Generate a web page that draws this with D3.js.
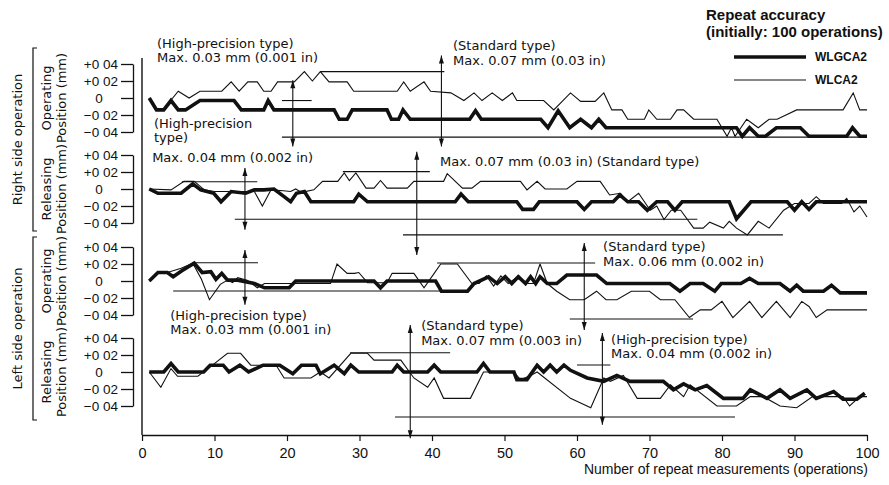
<!DOCTYPE html>
<html><head><meta charset="utf-8">
<script src="https://cdn.jsdelivr.net/npm/d3@7"></script>
<style>
body{margin:0;background:#fff}
svg{display:block}
text{font-family:"Liberation Sans",Arial,sans-serif;fill:#111}
.dv{font-family:"DejaVu Sans",sans-serif}
</style>
</head><body>
<svg id="c" width="889" height="485"></svg>
<script>
// ---------- DATA (operation number, deviation in mm) ----------
const xTicks = [0,10,20,30,40,50,60,70,80,90,100];
const yTicks = [0.04,0.02,0,-0.02,-0.04];
const yTickLabels = ["+0 04","+0 02","0","\u22120 02","\u22120 04"];
const seriesNames = ["WLGCA2","WLCA2"];
const panelNames = ["Operating","Releasing","Operating","Releasing"];
const sideNames = ["Right side operation","Left side operation"];

const rightOpWLGCA2 = [[1,0],[2,-0.014],[3,-0.014],[4,-0.003],[5,-0.014],[6,-0.014],[8,-0.003],[12.7,-0.003],[13.7,-0.014],[16.8,-0.014],[17.4,-0.003],[18.2,-0.014],[26.5,-0.014],[27.2,-0.025],[28.3,-0.025],[29,-0.014],[33.8,-0.014],[34.4,-0.025],[35.4,-0.025],[36,-0.014],[37,-0.025],[45.2,-0.025],[46,-0.015],[46.8,-0.025],[55,-0.025],[56,-0.035],[57.4,-0.015],[59,-0.035],[60.5,-0.025],[62,-0.035],[63,-0.025],[64,-0.035],[82,-0.035],[82.8,-0.045],[83.8,-0.035],[85,-0.045],[86,-0.045],[87.5,-0.035],[90.8,-0.035],[92,-0.045],[97.2,-0.045],[98,-0.035],[99,-0.045],[100,-0.045]];
const rightOpWLCA2 = [[1,0],[2,-0.013],[3,-0.013],[5,0.008],[6.5,0],[8,0.008],[11,0.008],[12.3,0.019],[13.4,0.008],[14.6,0.019],[15.9,0.019],[16.8,0.008],[17.8,0.008],[18.7,0.019],[21,0.019],[22.4,0.031],[23.5,0.02],[24.6,0.031],[25.8,0.019],[28.3,0.019],[29.2,0.008],[35.2,0.008],[36.1,0.019],[37,0.008],[38.9,0.019],[39.8,0.008],[42.6,0.006],[44.4,-0.003],[45.8,0.006],[46.9,-0.003],[48.3,0.006],[49.7,-0.003],[51.1,0.006],[51.7,-0.003],[55.4,-0.003],[56.8,-0.014],[59.1,0.006],[60.5,-0.004],[62.5,-0.004],[63.7,0.006],[64.8,-0.014],[66.2,-0.014],[67,-0.025],[69.3,-0.025],[69.9,-0.014],[71,-0.025],[72.9,-0.025],[73.8,-0.014],[74.7,-0.014],[76.1,-0.025],[79.3,-0.025],[80.7,-0.045],[81.3,-0.035],[81.8,-0.045],[83.4,-0.025],[85,-0.035],[86.5,-0.025],[87.6,-0.025],[90.3,-0.014],[96.7,-0.014],[98.1,0.006],[99,-0.014],[100,-0.014]];
const rightRelWLGCA2 = [[1,0],[2.2,-0.005],[5.4,-0.005],[7,0.006],[8.1,-0.001],[9.9,-0.005],[10.9,-0.015],[12.3,-0.003],[14.3,-0.005],[15.5,-0.001],[16.8,-0.001],[18.2,0],[19.6,-0.009],[20.5,-0.015],[21.3,-0.005],[22.4,-0.003],[23.3,-0.015],[29.2,-0.015],[29.9,-0.006],[31.1,-0.015],[43.2,-0.015],[44,-0.006],[45,-0.015],[51.7,-0.015],[52.5,-0.024],[54,-0.024],[54.8,-0.015],[60,-0.015],[61,-0.024],[62,-0.015],[65,-0.015],[65.9,-0.007],[67,-0.015],[68.5,-0.015],[69.7,-0.025],[71,-0.015],[72.5,-0.015],[73.5,-0.025],[74.5,-0.015],[81,-0.015],[82,-0.035],[84,-0.015],[89,-0.015],[90,-0.025],[91,-0.015],[92,-0.024],[93,-0.015],[95,-0.015],[100,-0.015]];
const rightRelWLCA2 = [[1,0],[4,-0.001],[5.8,0.009],[7.2,0.009],[8.6,-0.001],[10,-0.003],[15.5,-0.003],[16.6,-0.02],[17.8,-0.001],[19.5,-0.002],[20.5,-0.003],[21.2,0],[22,-0.004],[23.7,-0.001],[24.9,0.009],[27,0.009],[27.9,0.019],[28.6,0.01],[29.5,0.019],[30.9,0.001],[32,0.001],[32.9,0.01],[33.8,0.001],[36.6,0.001],[37.5,0.009],[41.6,0.009],[42.1,0.018],[44.2,0.001],[45.5,0.001],[46.7,0.009],[52.2,0.009],[53.1,-0.001],[54.5,0.009],[55.6,0],[58.6,0],[60,0.009],[63.2,0.009],[64.5,-0.007],[66,-0.005],[67,-0.015],[68.5,-0.005],[70.1,-0.025],[71,-0.02],[72,-0.036],[73,-0.025],[74.3,-0.025],[76.1,-0.046],[77.4,-0.046],[78.3,-0.039],[80.2,-0.046],[81,-0.038],[82,-0.046],[83.5,-0.054],[85,-0.038],[86.5,-0.046],[88.5,-0.025],[90,-0.017],[92,-0.017],[93,-0.009],[94,-0.017],[96.5,-0.017],[97.2,-0.011],[98.2,-0.027],[99,-0.02],[100,-0.033]];
const leftOpWLGCA2 = [[1,0],[2.2,0.01],[3.5,0.01],[4.3,0.005],[5.5,0.012],[7.2,0.021],[8.3,0.01],[9.5,0.011],[10.2,0.002],[11,0.009],[11.8,0.001],[13.2,0.001],[15.5,-0.003],[16.9,-0.008],[20.3,-0.008],[21.2,0],[32,0],[32.9,-0.008],[33.8,0],[40.5,0],[41.3,-0.012],[44.9,-0.012],[45.8,-0.003],[47.8,0.005],[49,-0.003],[50.1,0.005],[51,-0.003],[51.9,0.005],[52.9,-0.003],[53.6,0.005],[54.3,-0.003],[54.9,0.005],[55.9,-0.003],[57.2,-0.003],[58.6,0.007],[62.7,0.007],[64.1,-0.003],[72.8,-0.003],[74.2,-0.012],[75.6,-0.003],[77.4,-0.003],[79,-0.012],[79.9,-0.003],[82.6,-0.003],[83.8,0.003],[85,-0.003],[88,-0.003],[89.4,-0.012],[90.3,-0.005],[91.2,-0.012],[94,-0.012],[95.1,-0.005],[96.3,-0.014],[100,-0.014]];
const leftOpWLCA2 = [[1,0],[2.2,0.01],[3.5,0.01],[5.4,0.015],[7,0.021],[8.2,0.002],[9.3,-0.022],[10.8,-0.004],[11.8,0.001],[12.5,-0.002],[13.2,0.004],[14.5,0.001],[15.9,-0.008],[16.9,-0.003],[26,-0.003],[26.9,0.02],[28.3,0.009],[29.3,0.009],[29.9,0.01],[31.1,-0.002],[33.8,-0.002],[34.5,0.009],[37.5,0.009],[38.9,-0.008],[40.3,0.009],[41.2,0.02],[43.5,0.02],[45.5,-0.003],[46.5,-0.003],[47.5,0.006],[48.5,-0.006],[49.5,0.006],[50.5,-0.003],[52,0.006],[53,-0.003],[54,-0.003],[54.9,0.02],[55.9,-0.003],[57.2,-0.012],[59,-0.022],[61,-0.022],[62.7,-0.012],[64,-0.022],[65.5,-0.022],[67.5,-0.012],[70,-0.012],[71.5,-0.022],[73.5,-0.022],[75.5,-0.043],[77,-0.034],[78.5,-0.034],[80,-0.024],[81.5,-0.043],[83.8,-0.024],[85.5,-0.043],[87.5,-0.024],[89.4,-0.043],[91,-0.024],[92,-0.03],[93,-0.043],[94.5,-0.034],[100,-0.034]];
const leftRelWLGCA2 = [[1,0],[3,0],[4,0.01],[5,0],[8.5,0],[9.4,0.008],[11.2,0.008],[12,0],[13.5,0.008],[14.7,0],[16.7,0.008],[19,0.008],[20.8,-0.002],[22,0.008],[24,0.008],[24.6,-0.002],[26.5,0.008],[27.9,-0.002],[28.8,0.008],[29.9,0],[34.5,0],[35.2,0.008],[36.1,0],[39.4,0],[40.3,0.008],[41.2,0],[46.2,0],[47.1,0.01],[48,0],[51.3,0],[51.7,-0.009],[53.1,-0.009],[54.5,0.008],[55.4,0],[56.3,0.008],[57.2,0],[58.2,0.008],[59.1,0.002],[61.4,-0.007],[63.7,-0.011],[65.5,-0.004],[67.3,-0.011],[71.9,-0.011],[73.3,-0.021],[74.7,-0.014],[76.3,-0.021],[77.9,-0.016],[80.2,-0.031],[82.9,-0.031],[83.9,-0.021],[86.2,-0.031],[88,-0.021],[89.4,-0.031],[91.7,-0.021],[93,-0.031],[95.4,-0.023],[96.7,-0.032],[98.6,-0.032],[99.7,-0.025]];
const leftRelWLCA2 = [[1,0],[2.6,-0.018],[4,0.004],[4.9,-0.005],[7.7,-0.005],[9.1,0.004],[11.8,0.022],[13.6,0.022],[15,0.008],[18.5,0.008],[19.6,-0.007],[23.3,-0.007],[24.6,0],[25.8,-0.007],[28.8,0.022],[31.1,0.022],[32,0.014],[35.7,0.014],[37.5,-0.007],[39.4,-0.018],[40.3,-0.007],[41.6,-0.031],[45.3,-0.031],[47.1,0],[51.3,0],[52.2,-0.009],[53.6,-0.004],[54.5,0],[59.1,-0.031],[61.9,-0.042],[63.7,-0.007],[64.6,-0.011],[66.4,-0.004],[68.3,-0.031],[71.5,-0.031],[72.9,-0.015],[74.7,-0.029],[75.6,-0.015],[79.3,-0.04],[82,-0.04],[83.9,-0.029],[85.7,-0.029],[88,-0.04],[90.3,-0.042],[92.5,-0.029],[96.7,-0.029],[97.6,-0.04],[99,-0.029],[100,-0.029]];

const panelSeries = [
  [rightOpWLGCA2, rightOpWLCA2],
  [rightRelWLGCA2, rightRelWLCA2],
  [leftOpWLGCA2, leftOpWLCA2],
  [leftRelWLGCA2, leftRelWLCA2]
];

// reference lines: panel, op from, op to, value
const refLines = [
  [0,19.3,23.4,-0.003],[0,24.6,41.7,0.031],[0,19.3,100,-0.046],
  [1,5.5,15.9,0.0086],[1,12.8,76.6,-0.0356],[1,27.7,39.7,0.0204],[1,36,88.4,-0.054],
  [2,6.9,16,0.0215],[2,4.3,42.5,-0.0118],[2,40.7,62.5,0.0212],[2,59,76,-0.0447],
  [3,28.7,42.5,0.0227],[3,60,64.6,0.0082],[3,34.9,81.8,-0.053]
];
// dimension arrows: panel, op, value top, value bottom
const dimArrows = [
  [0,20.8,0.021,-0.057],[0,41.3,0.05,-0.057],
  [1,14.2,0.0247,-0.048],[1,37.9,0.0439,-0.0776],
  [2,14.2,0.0365,-0.028],[2,61,0.0447,-0.0576],
  [3,37,0.0553,-0.078],[3,63.5,0.0459,-0.062]
];
// annotation texts: panel, op, value, text
const notes = [
  [0,2.07,0.0588,"(High-precision type)"],
  [0,2.07,0.0424,"Max. 0.03 mm (0.001 in)"],
  [0,42.9,0.0565,"(Standard type)"],
  [0,42.9,0.0388,"Max. 0.07 mm (0.03 in)"],
  [0,1.65,-0.0353,"(High-precision"],
  [0,1.65,-0.0518,"type)"],
  [1,1.4,0.0318,"Max. 0.04 mm (0.002 in)"],
  [1,41.1,0.027,"Max. 0.07 mm (0.03 in) (Standard type)"],
  [2,63.6,0.0353,"(Standard type)"],
  [2,63.6,0.0176,"Max. 0.06 mm (0.002 in)"],
  [2,3.9,-0.0459,"(High-precision type)"],
  [2,3.9,-0.0624,"Max. 0.03 mm (0.001 in)"],
  [3,38.5,0.0494,"(Standard type)"],
  [3,38.5,0.0318,"Max. 0.07 mm (0.003 in)"],
  [3,64.7,0.033,"(High-precision type)"],
  [3,64.7,0.0165,"Max. 0.04 mm (0.002 in)"]
];

// ---------- LAYOUT ----------
const svg = d3.select("#c");
const x = d3.scaleLinear().domain([0,100]).range([142,867]);
const zeroY = [98,189,281,372];
const half = 34;
const ys = zeroY.map(z => d3.scaleLinear().domain([-0.04,0.04]).range([z+half, z-half]));
const axisY = 435;

// x axis
const gx = svg.append("g").attr("transform",`translate(0,${axisY})`)
  .call(d3.axisBottom(x).tickValues(xTicks).tickSize(6).tickSizeOuter(0).tickFormat(d3.format("d")));
gx.select(".domain").attr("stroke","#111").attr("stroke-width",1.4);
gx.selectAll(".tick line").attr("stroke","#111").attr("stroke-width",1.2);
gx.selectAll(".tick text").attr("dy","0.95em").style("font-size","14.5px").attr("fill","#111");
svg.append("text").attr("x",868).attr("y",474).attr("text-anchor","end")
  .style("font-size","14px").text("Number of repeat measurements (operations)");

// left frame line
svg.append("line").attr("x1",x(0)).attr("x2",x(0)).attr("y1",58).attr("y2",axisY).attr("stroke","#111").attr("stroke-width",1.4);

// y axes (bracket style)
ys.forEach((y,i) => {
  const g = svg.append("g").attr("transform","translate(133,0)")
    .call(d3.axisLeft(y).tickValues(yTicks).tickSize(12).tickSizeOuter(0).tickFormat((d,j)=>yTickLabels[j]));
  g.select(".domain").attr("stroke","#111").attr("stroke-width",1.3);
  g.selectAll(".tick line").attr("stroke","#111").attr("stroke-width",1.3);
  g.selectAll(".tick text").style("font-size","13.5px").attr("fill","#111").attr("x",-15);
  g.selectAll(".tick text").filter(d=>d===0).attr("text-anchor","middle").attr("x",-34);
});

// side labels and brackets
const sideSpan = [[ys[0](0.04)-16, ys[1](-0.04)+8],[ys[2](0.04)-10, ys[3](-0.04)+14]];
sideNames.forEach((s,i)=>{
  const [a,b] = sideSpan[i];
  svg.append("text").attr("class","dv").attr("transform",`translate(22,${(a+b)/2}) rotate(-90)`).attr("text-anchor","middle")
    .style("font-size","13px").text(s);
  svg.append("path").attr("d",`M37,${a}H33V${b}H37`).attr("fill","none").attr("stroke","#111").attr("stroke-width",1.2);
});
panelNames.forEach((p,i)=>{
  const c = zeroY[i];
  svg.append("text").attr("class","dv").attr("transform",`translate(51,${c}) rotate(-90)`).attr("text-anchor","middle").style("font-size","13px").text(p);
  svg.append("text").attr("class","dv").attr("transform",`translate(66,${c}) rotate(-90)`).attr("text-anchor","middle").style("font-size","13px").text("Position (mm)");
});

// reference lines
refLines.forEach(([p,a,b,v])=>{
  svg.append("line").attr("x1",x(a)).attr("x2",x(b)).attr("y1",ys[p](v)).attr("y2",ys[p](v))
    .attr("stroke","#111").attr("stroke-width",1.1);
});
// dimension arrows
dimArrows.forEach(([p,o,t,b])=>{
  const xx = x(o), y1 = ys[p](t), y2 = ys[p](b);
  svg.append("line").attr("x1",xx).attr("x2",xx).attr("y1",y1).attr("y2",y2).attr("stroke","#111").attr("stroke-width",1.1);
  svg.append("path").attr("d",`M${xx},${y1}l-2.5,8h5z`).attr("fill","#111");
  svg.append("path").attr("d",`M${xx},${y2}l-2.5,-8h5z`).attr("fill","#111");
});

// series lines
const widths = [3.6,1.1];
panelSeries.forEach((ser,p)=>{
  const line = d3.line().x(d=>x(d[0])).y(d=>ys[p](d[1]));
  [1,0].forEach(idx=>{
    svg.append("path").attr("d",line(ser[idx])).attr("fill","none").attr("stroke","#111")
      .attr("stroke-width",widths[idx]).attr("stroke-linejoin","miter").attr("stroke-miterlimit",3);
  });
});

// annotation texts
notes.forEach(([p,o,v,t])=>{
  svg.append("text").attr("class","dv").attr("x",x(o)).attr("y",ys[p](v)).style("font-size","13px").text(t);
});

// legend
svg.append("text").attr("x",706).attr("y",20).style("font-size","15px").style("font-weight","bold").text("Repeat accuracy");
svg.append("text").attr("x",706).attr("y",37).style("font-size","15px").style("font-weight","bold").text("(initially: 100 operations)");
seriesNames.forEach((s,i)=>{
  const yy = 57 + i*23;
  svg.append("line").attr("x1",734).attr("x2",806).attr("y1",yy).attr("y2",yy).attr("stroke","#111").attr("stroke-width",widths[i]);
  svg.append("text").attr("x",815).attr("y",yy+4).style("font-size","12px").style("font-weight","bold").text(s);
});
</script>
</body></html>
